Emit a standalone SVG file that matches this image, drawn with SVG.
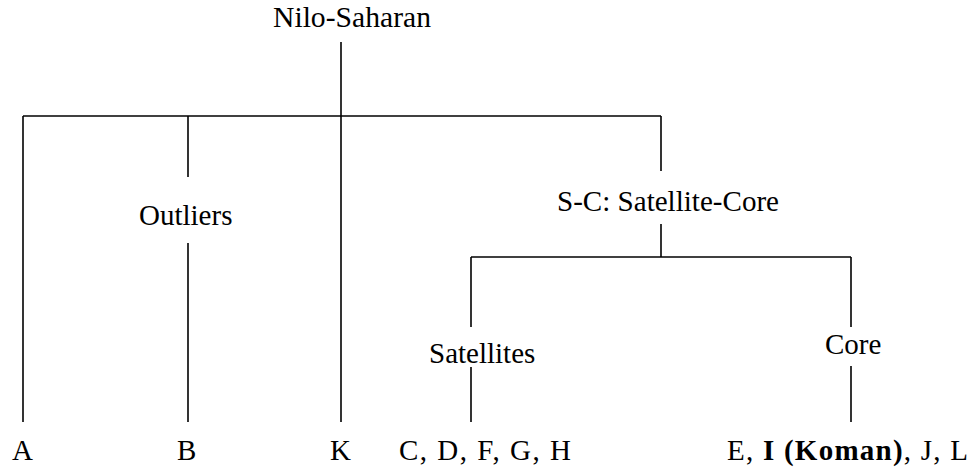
<svg xmlns="http://www.w3.org/2000/svg" width="973" height="468" viewBox="0 0 973 468">
<style>
text{font-size:29px;fill:#000;font-family:'Liberation Serif','Times New Roman',Times,serif}
.b{font-weight:bold}
line{stroke:#000;stroke-width:1.6;fill:none}
</style>
<rect width="973" height="468" fill="#fff"/>
<g id="connectors">
<line x1="341" y1="42" x2="341" y2="422"/>
<line x1="23" y1="116" x2="661" y2="116"/>
<line x1="23" y1="116" x2="23" y2="422"/>
<line x1="188" y1="116" x2="188" y2="177"/>
<line x1="188" y1="243" x2="188" y2="422"/>
<line x1="661" y1="116" x2="661" y2="171"/>
<line x1="661" y1="224" x2="661" y2="257"/>
<line x1="471" y1="257" x2="851" y2="257"/>
<line x1="471" y1="257" x2="471" y2="327"/>
<line x1="471" y1="367" x2="471" y2="422"/>
<line x1="851" y1="257" x2="851" y2="327"/>
<line x1="851" y1="366" x2="851" y2="422"/>
</g>
<g id="nilo-saharan"><text x="273" y="27" textLength="158" lengthAdjust="spacingAndGlyphs">Nilo-Saharan</text></g>
<g id="outliers"><text x="139" y="225">Outliers</text></g>
<g id="s-c"><text x="557" y="211" textLength="222" lengthAdjust="spacingAndGlyphs">S-C: Satellite-Core</text></g>
<g id="satellites"><text x="429" y="363">Satellites</text></g>
<g id="core"><text x="825" y="354">Core</text></g>
<g id="a"><text x="12" y="460">A</text></g>
<g id="b"><text x="177" y="460">B</text></g>
<g id="k"><text x="330" y="460">K</text></g>
<g id="cdfgh"><text x="399" y="460" textLength="172" lengthAdjust="spacing">C, D, F, G, H</text></g>
<g id="eijl"><text x="727" y="460" textLength="241" lengthAdjust="spacing">E, <tspan class="b">I (Koman)</tspan>, J, L</text></g>
</svg>
